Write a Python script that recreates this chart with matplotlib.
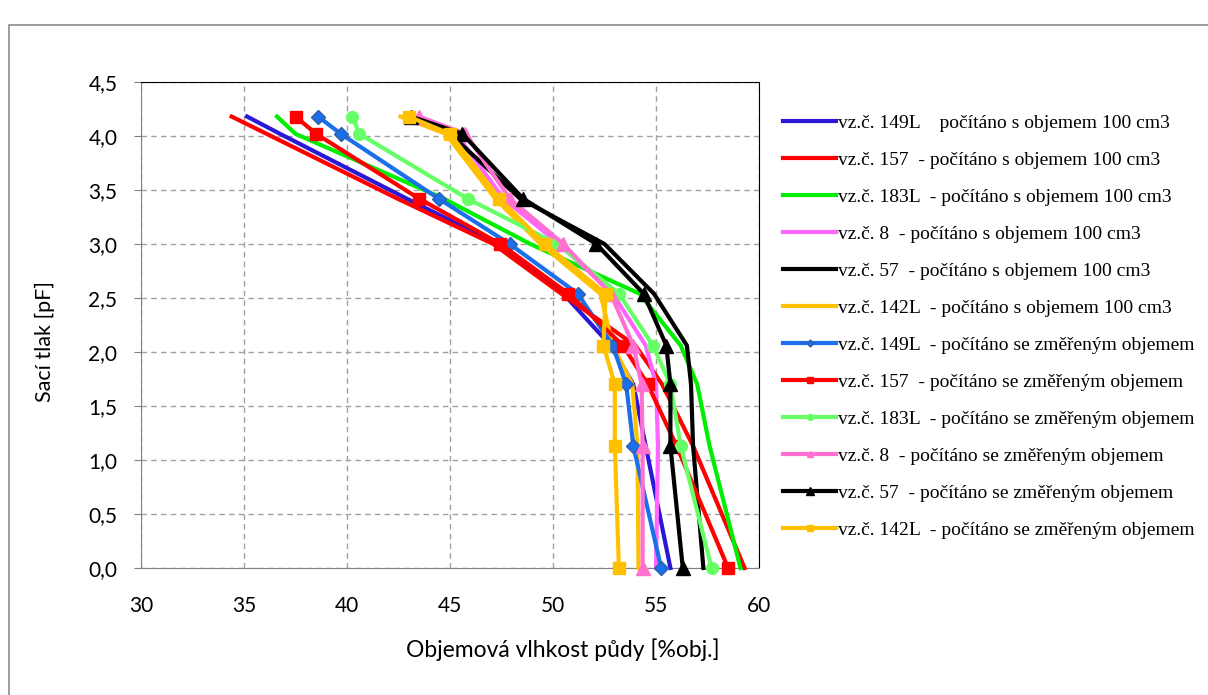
import matplotlib
matplotlib.use("Agg")
import matplotlib.pyplot as plt
from matplotlib.lines import Line2D
from matplotlib.patches import Rectangle

# pF levels (y values), shared by all samples
pf = [0.0, 1.13, 1.7, 2.06, 2.54, 3.0, 3.42, 4.02, 4.18]

# volumetric moisture [%obj.] - computed with volume 100 cm3
v149_100 = [55.7, 54.5, 53.9, 52.8, 50.5, 47.3, 42.9, 36.75, 35.15]
v157_100 = [59.3, 56.8, 55.3, 54.0, 50.4, 47.1, 42.45, 36.1, 34.4]
v183_100 = [59.1, 57.6, 57.0, 56.2, 54.2, 48.9, 44.7, 37.5, 36.6]
v8_100 = [55.0, 55.1, 55.0, 54.5, 52.9, 50.3, 47.6, 45.3, 43.3]
v57_100 = [57.3, 56.8, 56.7, 56.5, 54.9, 52.5, 48.4, 45.0, 43.0]
v142_100 = [54.15, 54.1, 53.85, 52.9, 52.3, 49.4, 47.2, 44.8, 42.6]

# volumetric moisture [%obj.] - computed with measured volume
v149_m = [55.25, 53.9, 53.55, 52.9, 51.2, 47.9, 44.45, 39.7, 38.6]
v157_m = [58.5, 56.0, 54.6, 53.4, 50.75, 47.45, 43.5, 38.5, 37.5]
v183_m = [57.7, 56.2, 55.7, 54.85, 53.2, 50.2, 45.85, 40.6, 40.25]
v8_m = [54.35, 54.35, 54.3, 53.9, 52.8, 50.5, 47.9, 45.75, 43.5]
v57_m = [56.3, 55.7, 55.7, 55.5, 54.4, 52.1, 48.55, 45.6, 43.1]
v142_m = [53.2, 53.0, 53.0, 52.45, 52.55, 49.6, 47.4, 45.0, 43.0]

labels = [
    "vz.č. 149L    počítáno s objemem 100 cm3",
    "vz.č. 157  - počítáno s objemem 100 cm3",
    "vz.č. 183L  - počítáno s objemem 100 cm3",
    "vz.č. 8  - počítáno s objemem 100 cm3",
    "vz.č. 57  - počítáno s objemem 100 cm3",
    "vz.č. 142L  - počítáno s objemem 100 cm3",
    "vz.č. 149L  - počítáno se změřeným objemem",
    "vz.č. 157  - počítáno se změřeným objemem",
    "vz.č. 183L  - počítáno se změřeným objemem",
    "vz.č. 8  - počítáno se změřeným objemem",
    "vz.č. 57  - počítáno se změřeným objemem",
    "vz.č. 142L  - počítáno se změřeným objemem",
]
series = [v149_100, v157_100, v183_100, v8_100, v57_100, v142_100,
          v149_m, v157_m, v183_m, v8_m, v57_m, v142_m]
colors = ["#2B17D6", "#FF0000", "#00EE00", "#FF66FF", "#000000", "#FFC000",
          "#1C6FEA", "#FF0000", "#66FF66", "#FF70D0", "#000000", "#FFC000"]
markers = [None] * 6 + ["D", "s", "o", "^", "^", "s"]
msizes = [0] * 6 + [7, 8.5, 8.5, 10, 10.5, 8.5]
medge = [None] * 6 + ["#2E5FA8", "#FF0000", "#66FF66", "#FF70D0", "#000000", "#FFC000"]

fig = plt.figure(figsize=(12.08, 6.95), dpi=100)
fig.patches.append(Rectangle((9 / 1208, -0.1), 1.2, 1.1 - 25 / 695,
                             transform=fig.transFigure, fill=False,
                             edgecolor="#8c8c8c", linewidth=1.2))
ax = fig.add_axes([141 / 1208, (695 - 568) / 695, (759 - 141) / 1208, (568 - 82) / 695])

for i in range(12):
    ax.plot(series[i], pf, color=colors[i], linewidth=3.0,
            marker=markers[i], markersize=msizes[i],
            markeredgecolor=medge[i], zorder=3 + i, clip_on=False,
            solid_joinstyle="round")

ax.set_xlim(30, 60)
ax.set_ylim(0, 4.5)
ax.set_xticks(range(30, 61, 5))
ax.set_yticks([i * 0.5 for i in range(10)])
ax.set_yticklabels([f"{i * 0.5:.1f}".replace(".", ",") for i in range(10)])
ax.grid(True, linestyle=(0, (4, 3)), color="#a0a0a0", linewidth=1.0)

tickfont = ["Lato", "DejaVu Sans"]
for lab in ax.get_xticklabels() + ax.get_yticklabels():
    lab.set_family(tickfont)
    lab.set_fontsize(15)
ax.tick_params(axis="x", length=0, pad=20)
ax.tick_params(axis="y", length=5, color="#808080", pad=12)
ax.spines["bottom"].set_color("#808080")
ax.spines["left"].set_color("#808080")
ax.spines["top"].set_color("#000000")
ax.spines["right"].set_color("#000000")

ax.set_xlabel("Objemová vlhkost půdy [%obj.]", family=tickfont, fontsize=16.5)
ax.xaxis.set_label_coords((563 - 141) / 618, -(650 - 568) / 486)
ax.xaxis.label.set_va("center")
ax.set_ylabel("Sací tlak [pF]", family=tickfont, fontsize=15.5)
ax.yaxis.set_label_coords(-(141 - 45) / 618, (568 - 341) / 486)
ax.yaxis.label.set_va("center")

handles = []
for i in range(12):
    handles.append(Line2D([], [], color=colors[i], linewidth=3.0,
                          marker=markers[i], markersize=msizes[i] * 0.5,
                          markeredgecolor=medge[i]))
leg = fig.legend(handles, labels, loc="upper left",
                 bbox_to_anchor=(783 / 1208, 1 - 114 / 695),
                 frameon=False, prop={"family": "Liberation Serif", "size": 14},
                 handlelength=2.75, handletextpad=0.1, labelspacing=1.0,
                 borderaxespad=0, borderpad=0)

fig.savefig("out.png", dpi=100)
